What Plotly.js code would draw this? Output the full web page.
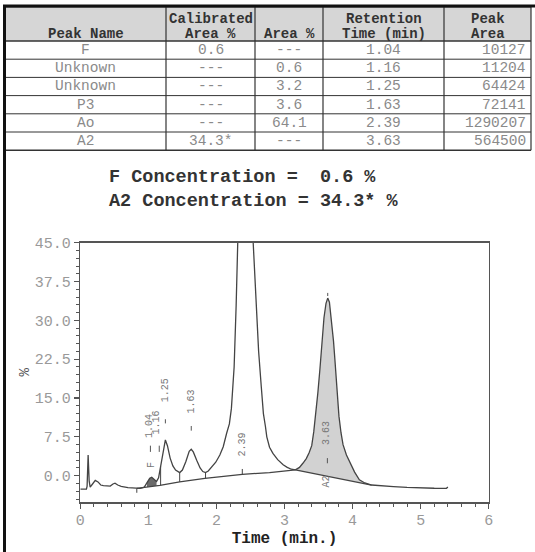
<!DOCTYPE html>
<html>
<head>
<meta charset="utf-8">
<script src="https://cdn.plot.ly/plotly-3.0.1.min.js"></script>
<style>html,body{margin:0;padding:0;background:#fff;}#chart{width:535px;height:552px;}</style>
</head>
<body>
<div id="chart"></div>
<script>
// ---- table data ----
const headerTop = ['','Calibrated','','Retention','Peak'];
const headerBottom = ['Peak Name','Area %','Area %','Time (min)','Area'];
const peakNames = ['F','Unknown','Unknown','P3','Ao','A2'];
const calibArea = ['0.6','---','---','---','---','34.3*'];
const areaPct = ['---','0.6','3.2','3.6','64.1','---'];
const retTimes = ['1.04','1.16','1.25','1.63','2.39','3.63'];
const peakAreas = ['10127','11204','64424','72141','1290207','564500'];

// ---- chromatogram data ----
const timeMin = [0,0.05,0.09,0.10,0.115,0.13,0.145,0.18,0.22,0.26,
  0.30,0.34,0.40,0.44,0.48,0.51,0.55,0.60,0.70,0.80,
  0.88,0.94,0.98,1.02,1.05,1.08,1.12,1.15,1.18,1.21,
  1.25,1.28,1.32,1.36,1.40,1.46,1.50,1.55,1.60,1.63,
  1.66,1.71,1.76,1.80,1.84,1.88,1.93,1.99,2.05,2.10,
  2.15,2.19,2.22,2.26,2.29,2.31,2.33,2.36,2.39,2.42,
  2.46,2.50,2.54,2.58,2.62,2.66,2.69,2.72,2.74,2.78,
  2.83,2.90,2.98,3.04,3.10,3.16,3.22,3.27,3.32,3.36,
  3.40,3.43,3.46,3.49,3.52,3.55,3.58,3.61,3.635,3.66,
  3.69,3.72,3.74,3.76,3.78,3.80,3.83,3.86,3.91,3.96,
  4.03,4.10,4.18,4.28,4.40,4.60,4.80,5.00,5.20,5.38,
  5.40];
const signalPct = [-2.6,-2.6,-2.6,-2.0,4.0,-1.0,-2.2,-1.6,-0.9,-1.2,
  -1.8,-1.9,-1.95,-2.0,-1.6,-1.45,-1.8,-2.05,-2.3,-2.4,
  -2.45,-2.2,-1.3,-0.5,-0.3,-0.6,-1.1,-0.4,1.8,3.8,
  6.9,5.8,3.4,1.9,1.1,0.6,1.1,2.7,4.7,5.1,
  4.6,3.0,1.5,0.8,0.6,0.9,1.6,2.6,4.0,5.6,
  8.2,10,13,21,33,45,60,78,85,80,
  66,52,45,33,24,17,12,9.5,7.5,5.5,
  4.3,3.1,2.1,1.6,1.25,1.12,1.6,2.4,3.3,4.4,
  5.8,8.5,12,16,20.5,26,30.5,33.3,34.3,33.5,
  30,26,22.5,18.5,14.8,11.5,8.3,6,4,2.5,
  0.7,-0.8,-1.4,-1.8,-1.95,-2.1,-2.25,-2.37,-2.42,-2.44,
  -2.2];

// integration baselines
const baseT = [0.83,1.17,1.46,1.83,2.38,2.78,3.16];
const baseY = [-2.45,-1.86,-1.2,-0.5,0.27,0.6,1.12];
const a2BaseT = [3.16,4.28];
const a2BaseY = [1.12,-1.8];

// drop lines and retention ticks
const dropT = [1.18,1.46,1.84];
const tickT = [0.83,2.38];
const tickLo = [-3.3,0.27];
const tickHi = [-2.45,1.3];

// peak marks (short dashes)
const dashT = [1.03,1.16,1.25,1.63,3.63,3.635];
const dashLo = [4.6,4.6,10.1,8.7,2.4,34.7];
const dashHi = [5.8,5.8,10.9,9.6,3.4,35.3];

// peak labels
const labelText = ['1.04','1.16','1.25','1.63','2.39','3.63','F','A2'];
const labelT = [1.025,1.12,1.25,1.63,2.38,3.62,1.05,3.62];
const labelY = [9.6,10.2,16.6,14.4,6.1,8.2,2.0,-1.2];

const concText = '<b>F Concentration =\u00a0\u00a00.6 %</b><br><b>A2 Concentration = 34.3* %</b>';

// ---- helpers ----
const W = 535, H = 552;
const px = v => v / W;
const py = v => 1 - v / H;
function interp(xs, ys, x){
  for(let i=0;i<xs.length-1;i++){
    if(x>=xs[i] && x<=xs[i+1]){
      const f=(x-xs[i])/(xs[i+1]-xs[i]);
      return ys[i]+f*(ys[i+1]-ys[i]);
    }
  }
  return ys[ys.length-1];
}
function regionPoly(t0,t1,bT,bY){
  const x=[],y=[];
  for(let i=0;i<timeMin.length;i++){
    if(timeMin[i]>=t0 && timeMin[i]<=t1){x.push(timeMin[i]);y.push(signalPct[i]);}
  }
  x.push(t1);y.push(interp(bT,bY,t1));
  x.push(t0);y.push(interp(bT,bY,t0));
  x.push(x[0]);y.push(y[0]);
  return {x:x,y:y};
}
function segs(ts, lo, hi){
  const x=[],y=[];
  ts.forEach((t,i)=>{x.push(t,t,null);y.push(lo[i],hi[i],null);});
  return {x:x,y:y};
}

const a2Poly = regionPoly(3.16,4.28,a2BaseT,a2BaseY);
const fPoly = regionPoly(0.98,1.12,baseT,baseY);
const dropLo = dropT.map(t=>interp(baseT,baseY,t));
const dropHi = dropT.map(t=>interp(timeMin,signalPct,t));
const drops = segs(dropT,dropLo,dropHi);
const ticksSeg = segs(tickT,tickLo,tickHi);
const dashes = segs(dashT,dashLo,dashHi);

const lineCol = '#444';
const traces = [
  {type:'scatter', mode:'lines', x:a2Poly.x, y:a2Poly.y, fill:'toself', fillcolor:'#d2d2d2',
   line:{width:0}, hoverinfo:'skip'},
  {type:'scatter', mode:'lines', x:fPoly.x, y:fPoly.y, fill:'toself', fillcolor:'#6a6a6a',
   line:{width:0}, hoverinfo:'skip'},
  {type:'scatter', mode:'lines', x:baseT, y:baseY, line:{color:lineCol,width:1.3}},
  {type:'scatter', mode:'lines', x:a2BaseT, y:a2BaseY, line:{color:lineCol,width:1.3}},
  {type:'scatter', mode:'lines', x:drops.x, y:drops.y, line:{color:lineCol,width:1}, connectgaps:false},
  {type:'scatter', mode:'lines', x:ticksSeg.x, y:ticksSeg.y, line:{color:lineCol,width:1}, connectgaps:false},
  {type:'scatter', mode:'lines', x:dashes.x, y:dashes.y, line:{color:'#555',width:1}, connectgaps:false},
  {type:'scatter', mode:'lines', x:timeMin, y:signalPct, line:{color:lineCol,width:1.3}}
];

// ---- table (shapes + text) ----
const colEdges = [5,166,255,323,444,531];
const rowEdges = [7,41,59.2,77.4,95.6,113.8,132,150.2];
const mono = 'Liberation Mono, Courier New, monospace';
const shapes = [];
shapes.push({type:'rect', xref:'paper', yref:'paper', x0:px(colEdges[0]), x1:px(colEdges[5]),
  y0:py(rowEdges[0]), y1:py(rowEdges[1]), fillcolor:'#d6d6d6', line:{width:0}, layer:'below'});
rowEdges.forEach((r,i)=>shapes.push({type:'line', xref:'paper', yref:'paper', x0:px(colEdges[0]), x1:px(colEdges[5]),
  y0:py(r), y1:py(r), line:{color:'#333', width:(i===1||i===rowEdges.length-1)?1.5:1}}));
colEdges.forEach(c=>shapes.push({type:'line', xref:'paper', yref:'paper', x0:px(c), x1:px(c),
  y0:py(rowEdges[0]), y1:py(rowEdges[rowEdges.length-1]), line:{color:'#333', width:1.2}}));
shapes.push({type:'line', xref:'paper', yref:'paper', x0:px(3), x1:1, y0:py(6), y1:py(6), line:{color:'#111',width:3}});
shapes.push({type:'line', xref:'paper', yref:'paper', x0:px(4.5), x1:px(4.5), y0:0, y1:py(5), line:{color:'#111',width:3}});

const annotations = [];
const colCenter = i => (colEdges[i]+colEdges[i+1])/2;
headerTop.forEach((t,i)=>{
  if(t) annotations.push({xref:'paper', yref:'paper', x:px(colCenter(i)), y:py(19), text:'<b>'+t+'</b>',
    showarrow:false, xanchor:'center', yanchor:'middle', font:{family:mono, size:14, color:'#333'}});
});
headerBottom.forEach((t,i)=>annotations.push({xref:'paper', yref:'paper', x:px(colCenter(i)), y:py(34), text:'<b>'+t+'</b>',
    showarrow:false, xanchor:'center', yanchor:'middle', font:{family:mono, size:14, color:'#333'}}));
const cols = [peakNames, calibArea, areaPct, retTimes, peakAreas];
cols.forEach((col,ci)=>{
  col.forEach((v,ri)=>{
    const yc = (rowEdges[ri+1]+rowEdges[ri+2])/2;
    const right = ci===4;
    annotations.push({xref:'paper', yref:'paper', x: right ? px(colEdges[5]-3) : px(colCenter(ci)), y:py(yc),
      text:v, showarrow:false, xanchor: right?'right':'center', yanchor:'middle',
      font:{family:mono, size:14.5, color:'#8a8a8a'}});
  });
});

// concentration text
annotations.push({x:px(107), y:py(189), xref:'paper', yref:'paper', text:concText, showarrow:false,
  align:'left', xanchor:'left', yanchor:'middle', font:{family:mono, size:18.5, color:'#333'}});

// peak labels
labelText.forEach((t,i)=>annotations.push({
  x:labelT[i], y:labelY[i], xref:'x', yref:'y', text:t, showarrow:false, textangle:-90,
  font:{family:mono, size:10, color:'#777'}, xanchor:'center', yanchor:'middle'
}));

const axFont = {family:mono, size:15, color:'#999'};
const layout = {
  width:W, height:H, margin:{l:0,r:0,t:0,b:0},
  paper_bgcolor:'#fff', plot_bgcolor:'#fff', showlegend:false,
  xaxis:{domain:[px(80.3),px(488.7)], range:[0,6], tick0:0, dtick:1, ticks:'outside', ticklen:5,
    tickcolor:'#555', tickwidth:1.2, showline:true, linecolor:'#555', linewidth:1.5, mirror:true,
    showgrid:false, zeroline:false, tickfont:axFont, ticklabelstandoff:-2,
    minor:{dtick:0.2, ticks:'outside', ticklen:3, tickcolor:'#555', tickwidth:1, showgrid:false},
    title:{text:'<b>Time (min.)</b>', standoff:3, font:{family:mono, size:16, color:'#222'}}},
  yaxis:{domain:[py(502), py(242.7)], range:[-5.08,45], tick0:0, dtick:7.5, tickformat:'.1f',
    ticks:'outside', ticklen:5, tickcolor:'#555', tickwidth:1.2, showline:true, linecolor:'#555', linewidth:1.5,
    mirror:true, showgrid:false, zeroline:false, tickfont:axFont,
    minor:{dtick:1.5, ticks:'outside', ticklen:3, tickcolor:'#555', tickwidth:1, showgrid:false},
    title:{text:'%', standoff:2, font:{family:mono, size:14, color:'#555'}}},
  annotations:annotations,
  shapes:shapes
};
Plotly.newPlot('chart', traces, layout, {staticPlot:true, displayModeBar:false});
</script>
</body>
</html>
